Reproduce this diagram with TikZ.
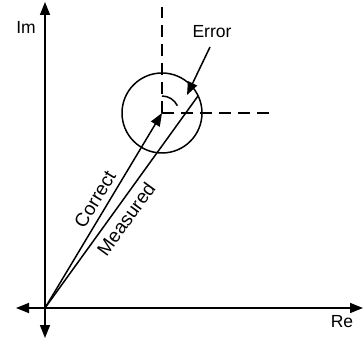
\documentclass[tikz,border=0pt]{standalone}
\usepackage{fontspec}
\setmainfont{Liberation Sans}
\usetikzlibrary{arrows.meta}
\begin{document}
\begin{tikzpicture}[x=1pt,y=-1pt,
  ln/.style={line width=1.5pt},
  tip/.style={-{Triangle[length=13pt,width=10pt]}},
  dsh/.style={line width=1.5pt,dash pattern=on 12pt off 7pt},
  lbl/.style={font=\fontsize{17.5}{20}\selectfont,inner sep=1pt},
  rlbl/.style={font=\fontsize{19}{22}\selectfont,inner sep=1pt}]
\useasboundingbox (0,0) rectangle (363,344);
\coordinate (O) at (45,308);
\coordinate (C) at (162,113);
\coordinate (M) at (198,96);
\coordinate (T) at (45,2);
\coordinate (L) at (16,308);
\coordinate (R) at (363,308);
\coordinate (D) at (45,338);
\coordinate (Vtop) at (162,7);
\coordinate (Hend) at (269,113);
\coordinate (E0) at (210,47);
\coordinate (E1) at (187,95);
\draw[ln,tip] (O) -- (T);
\draw[ln,tip] (O) -- (L);
\draw[ln,tip] (O) -- (R);
\draw[ln,tip] (O) -- (D);
\node[lbl] (im) at (26,27) {Im};
\node[lbl] (re) at (342,322) {Re};
\draw[dsh] (C) -- (Vtop);
\draw[dsh] (C) -- (Hend);
\draw[ln] (C) circle[radius=40];
\draw[ln] ([shift={(-90:17)}]C) arc[start angle=-90,end angle=-25.3,radius=17];
\draw[ln,tip] (O) -- (C);
\draw[ln] (O) -- (M);
\node[rlbl,rotate=58.8] (corr) at (95,199) {Correct};
\node[rlbl,rotate=54] (meas) at (126,219) {Measured};
\draw[ln,tip] (E0) -- (E1);
\node[lbl] (err) at (212,32) {Error};
\end{tikzpicture}
\end{document}
